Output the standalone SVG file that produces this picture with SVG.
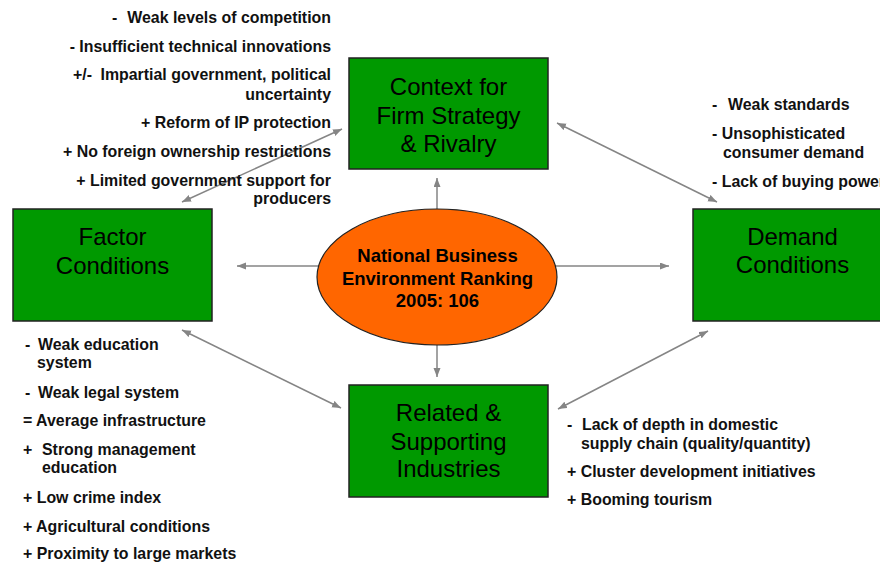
<svg xmlns="http://www.w3.org/2000/svg" width="880" height="563" viewBox="0 0 880 563">
  <style>
    .box { fill: #009900; stroke: #222; stroke-width: 1.5; }
    .box-label { font-family: "Liberation Sans", Arial, sans-serif; font-size: 24px; fill: #000; text-anchor: middle; }
    .core { fill: #FF6600; stroke: #222; stroke-width: 1.2; }
    .core-label { font-family: "Liberation Sans", Arial, sans-serif; font-size: 18.5px; font-weight: bold; fill: #000; text-anchor: middle; }
    .note { font-family: "Liberation Sans", Arial, sans-serif; font-size: 15.9px; font-weight: bold; fill: #111; }
    .end { text-anchor: end; }
    .link { stroke: #858585; stroke-width: 1.5; fill: none; marker-start: url(#head); marker-end: url(#head); }
    .ray { stroke: #858585; stroke-width: 1.5; fill: none; marker-end: url(#head); }
  </style>
  <defs>
    <marker id="head" markerUnits="userSpaceOnUse" markerWidth="10" markerHeight="8" refX="9" refY="3.5" orient="auto-start-reverse">
      <path d="M0,0 L9,3.5 L0,7 z" fill="#858585"/>
    </marker>
  </defs>
  <rect width="880" height="563" fill="#fff"/>

  <!-- connectors -->
  <g id="connectors">
    <line class="ray" x1="437" y1="212" x2="437" y2="178"/>
    <line class="ray" x1="437" y1="342" x2="437" y2="377"/>
    <line class="ray" x1="322" y1="266" x2="237" y2="266"/>
    <line class="ray" x1="553" y1="266" x2="669" y2="266"/>
    <line class="link" x1="182" y1="202" x2="342" y2="129"/>
    <line class="link" x1="557" y1="123" x2="717" y2="202"/>
    <line class="link" x1="182" y1="330" x2="341" y2="408"/>
    <line class="link" x1="558" y1="409" x2="708" y2="331"/>
  </g>

  <!-- centre ranking -->
  <g id="ranking">
    <ellipse class="core" cx="437" cy="277" rx="120" ry="68"/>
    <text class="core-label" x="437.5" y="262">National Business</text>
    <text class="core-label" x="437.5" y="284.5">Environment Ranking</text>
    <text class="core-label" x="437.5" y="307">2005: 106</text>
  </g>

  <!-- diamond nodes -->
  <g id="context">
    <rect class="box" x="349" y="58" width="199" height="111"/>
    <text class="box-label" x="448.5" y="95">Context for</text>
    <text class="box-label" x="448.5" y="124">Firm Strategy</text>
    <text class="box-label" x="448.5" y="152">&amp; Rivalry</text>
  </g>
  <g id="factor">
    <rect class="box" x="13" y="209" width="199" height="112"/>
    <text class="box-label" x="112.5" y="245">Factor</text>
    <text class="box-label" x="112.5" y="274">Conditions</text>
  </g>
  <g id="demand">
    <rect class="box" x="693" y="209" width="199" height="112"/>
    <text class="box-label" x="792.5" y="245">Demand</text>
    <text class="box-label" x="792.5" y="273">Conditions</text>
  </g>
  <g id="related">
    <rect class="box" x="349" y="385" width="199" height="112"/>
    <text class="box-label" x="448.5" y="421">Related &amp;</text>
    <text class="box-label" x="448.5" y="450">Supporting</text>
    <text class="box-label" x="448.5" y="477">Industries</text>
  </g>

  <!-- strategy & rivalry notes -->
  <g id="context-notes">
    <text class="note" x="112" y="23">-</text>
    <text class="note end" x="331" y="23">Weak levels of competition</text>
    <text class="note end" x="331" y="52">- Insufficient technical innovations</text>
    <text class="note" x="73" y="80">+/-</text>
    <text class="note end" x="331" y="80">Impartial government, political</text>
    <text class="note end" x="331" y="100">uncertainty</text>
    <text class="note end" x="331" y="128">+ Reform of IP protection</text>
    <text class="note end" x="331" y="157">+ No foreign ownership restrictions</text>
    <text class="note end" x="331" y="186">+ Limited government support for</text>
    <text class="note end" x="331" y="204">producers</text>
  </g>

  <!-- demand notes -->
  <g id="demand-notes">
    <text class="note" x="712" y="110">-</text>
    <text class="note" x="728" y="110">Weak standards</text>
    <text class="note" x="712" y="139">- Unsophisticated</text>
    <text class="note" x="723" y="158">consumer demand</text>
    <text class="note" x="712" y="187">- Lack of buying power</text>
  </g>

  <!-- factor notes -->
  <g id="factor-notes">
    <text class="note" x="25" y="350">-</text>
    <text class="note" x="38" y="350">Weak education</text>
    <text class="note" x="37" y="368">system</text>
    <text class="note" x="25" y="398">-</text>
    <text class="note" x="38" y="398">Weak legal system</text>
    <text class="note" x="23" y="426">= Average infrastructure</text>
    <text class="note" x="23" y="455">+</text>
    <text class="note" x="42" y="455">Strong management</text>
    <text class="note" x="42" y="473">education</text>
    <text class="note" x="23" y="503">+ Low crime index</text>
    <text class="note" x="23" y="532">+ Agricultural conditions</text>
    <text class="note" x="23" y="559">+ Proximity to large markets</text>
  </g>

  <!-- supporting industry notes -->
  <g id="related-notes">
    <text class="note" x="567" y="430">-</text>
    <text class="note" x="582" y="430">Lack of depth in domestic</text>
    <text class="note" x="581" y="449">supply chain (quality/quantity)</text>
    <text class="note" x="567" y="477">+ Cluster development initiatives</text>
    <text class="note" x="567" y="505">+ Booming tourism</text>
  </g>
</svg>
